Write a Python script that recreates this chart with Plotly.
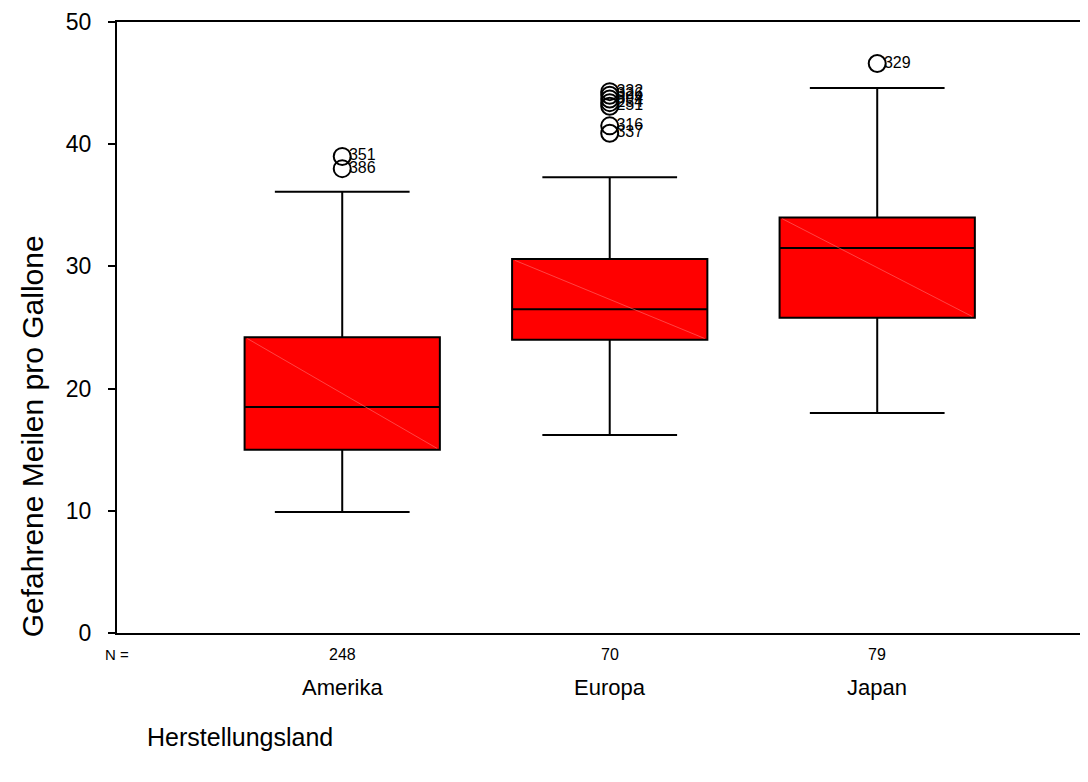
import plotly.graph_objects as go

categories = ["Amerika", "Europa", "Japan"]
n_counts = ["248", "70", "79"]
lower_whisker = [9.9, 16.2, 18.0]
q1 = [15.0, 24.0, 25.8]
median = [18.5, 26.5, 31.5]
q3 = [24.2, 30.6, 34.0]
upper_whisker = [36.1, 37.3, 44.6]

outlier_group = [0, 0, 1, 1, 1, 1, 1, 1, 1, 2]
outlier_values = [39.0, 38.0, 44.3, 44.0, 43.7, 43.4, 43.1, 41.5, 40.9, 46.6]
outlier_labels = ["351", "386", "332", "326", "394", "254", "251", "316", "337", "329"]

xs = list(range(len(categories)))
box_w = 0.73

fig = go.Figure()
fig.add_trace(go.Box(
    x=xs, q1=q1, median=median, q3=q3,
    lowerfence=lower_whisker, upperfence=upper_whisker,
    width=box_w, whiskerwidth=0.69,
    fillcolor="#ff0000", line=dict(color="black", width=2),
    boxpoints=False, showlegend=False, hoverinfo="skip",
))

# faint diagonal artefact across each box
dx, dy = [], []
for i in xs:
    dx += [i - box_w / 2 + 0.01, i + box_w / 2 - 0.01, None]
    dy += [q3[i] - 0.1, q1[i] + 0.1, None]
fig.add_trace(go.Scatter(x=dx, y=dy, mode="lines",
                         line=dict(color="#ff7070", width=0.6),
                         showlegend=False, hoverinfo="skip"))

fig.add_trace(go.Scatter(
    x=outlier_group, y=outlier_values, mode="markers",
    marker=dict(symbol="circle-open", size=17, color="black",
                line=dict(width=2, color="black")),
    showlegend=False, hoverinfo="skip", cliponaxis=False,
))
fig.add_trace(go.Scatter(
    x=[g + 0.025 for g in outlier_group], y=outlier_values, mode="text",
    text=outlier_labels, textposition="middle right",
    textfont=dict(size=16, color="black", family="Liberation Sans, Arial"),
    showlegend=False, hoverinfo="skip", cliponaxis=False,
))

annotations = []
for i, (c, n) in enumerate(zip(categories, n_counts)):
    annotations.append(dict(x=i, y=-0.0344, xref="x", yref="paper", text=n,
                            showarrow=False, yanchor="middle", font=dict(size=16)))
    annotations.append(dict(x=i, y=-0.0900, xref="x", yref="paper", text=c,
                            showarrow=False, yanchor="middle", font=dict(size=22)))
annotations.append(dict(x=0, y=-0.0344, xref="paper", yref="paper", text="N =",
                        showarrow=False, xanchor="center", yanchor="middle",
                        font=dict(size=15)))
annotations.append(dict(x=0.0288, y=-0.170, xref="paper", yref="paper",
                        text="Herstellungsland", showarrow=False,
                        xanchor="left", yanchor="middle", font=dict(size=25)))
annotations.append(dict(x=-0.0875, y=0.322, xref="paper", yref="paper",
                        text="Gefahrene Meilen pro Gallone", showarrow=False,
                        textangle=-90, xanchor="center", yanchor="middle",
                        font=dict(size=30)))

fig.update_layout(
    width=1080, height=774,
    margin=dict(l=109, r=0, t=14, b=149),
    paper_bgcolor="white", plot_bgcolor="white",
    font=dict(family="Liberation Sans, Arial", color="black"),
    annotations=annotations,
    xaxis=dict(range=[-0.842, 2.788], showticklabels=False, ticks="",
               showgrid=False, zeroline=False, showline=True,
               linecolor="black", linewidth=2, mirror=True),
    yaxis=dict(range=[0, 50], tickvals=[0, 10, 20, 30, 40, 50],
               ticks="outside", ticklen=7, tickwidth=2, tickcolor="black",
               ticklabelstandoff=12,
               showgrid=False, zeroline=False, showline=True,
               linecolor="black", linewidth=2, tickfont=dict(size=23)),
)

fig.write_html("out.html")
